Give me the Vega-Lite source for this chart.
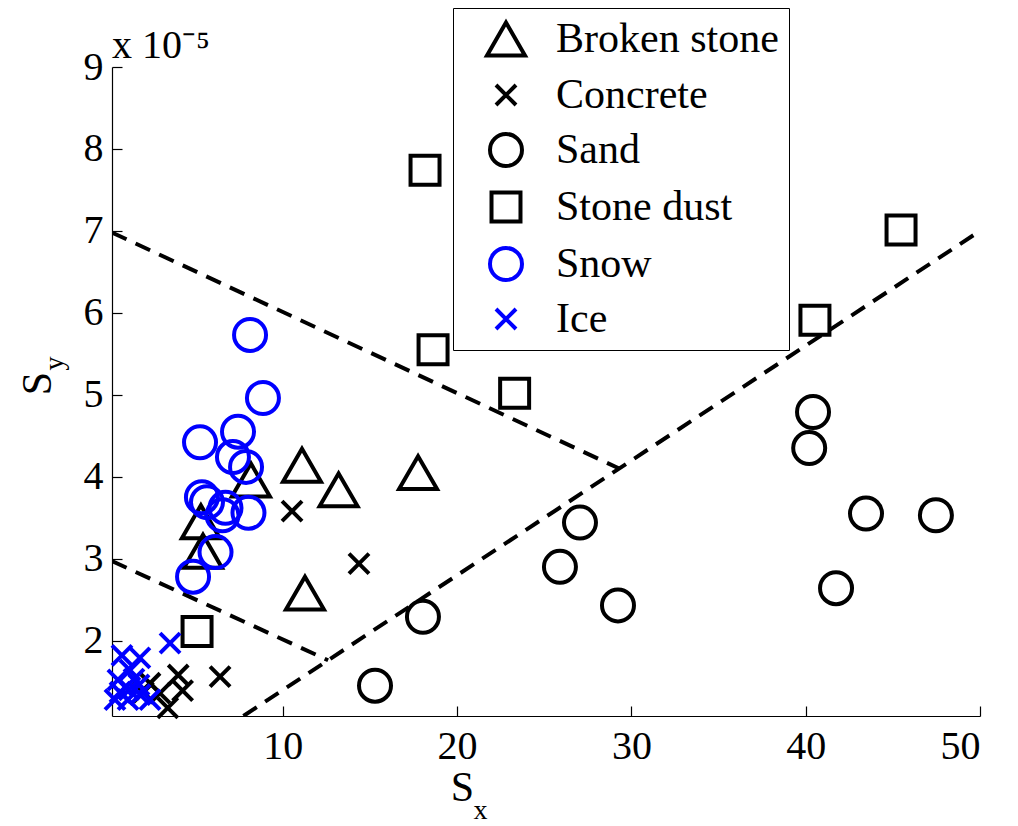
{
  "$schema": "https://vega.github.io/schema/vega-lite/v6.json",
  "width": 868,
  "height": 649,
  "autosize": {"type": "none"},
  "padding": {"left": 112, "top": 67, "right": 38, "bottom": 110},
  "background": "white",
  "config": {"view": {"stroke": null}, "font": "Liberation Serif"},
  "title": {"text": "x 10⁻⁵", "anchor": "start", "frame": "group", "fontSize": 40, "font": "Liberation Serif", "fontWeight": "normal", "color": "black", "baseline": "alphabetic", "offset": 12, "dy": 102},
  "datasets": {
    "lines": [
      {"seg": "a", "sx": 0.2, "sy": 6.98},
      {"seg": "a", "sx": 29.3, "sy": 4.1},
      {"seg": "b", "sx": 7.74, "sy": 1.08},
      {"seg": "b", "sx": 50, "sy": 7.0},
      {"seg": "c", "sx": 0.2, "sy": 2.97},
      {"seg": "c", "sx": 12.6, "sy": 1.76}
    ],
    "pts": [
      {"material": "Broken stone", "sx": 11.1, "sy": 4.14},
      {"material": "Broken stone", "sx": 13.2, "sy": 3.84},
      {"material": "Broken stone", "sx": 17.76, "sy": 4.05},
      {"material": "Broken stone", "sx": 11.27, "sy": 2.58},
      {"material": "Broken stone", "sx": 8.17, "sy": 3.96},
      {"material": "Broken stone", "sx": 5.3, "sy": 3.45},
      {"material": "Broken stone", "sx": 5.42, "sy": 3.09},
      {"material": "Concrete", "sx": 10.53, "sy": 3.58},
      {"material": "Concrete", "sx": 14.37, "sy": 2.94},
      {"material": "Concrete", "sx": 6.4, "sy": 1.56},
      {"material": "Concrete", "sx": 4.0, "sy": 1.58},
      {"material": "Concrete", "sx": 4.25, "sy": 1.39},
      {"material": "Concrete", "sx": 3.4, "sy": 1.18},
      {"material": "Concrete", "sx": 2.38, "sy": 1.48},
      {"material": "Concrete", "sx": 2.95, "sy": 1.36},
      {"material": "Concrete", "sx": 2.0, "sy": 1.37},
      {"material": "Sand", "sx": 27.05, "sy": 3.44},
      {"material": "Sand", "sx": 25.9, "sy": 2.9},
      {"material": "Sand", "sx": 29.23, "sy": 2.43},
      {"material": "Sand", "sx": 18.04, "sy": 2.29},
      {"material": "Sand", "sx": 15.29, "sy": 1.45},
      {"material": "Sand", "sx": 40.42, "sy": 4.79},
      {"material": "Sand", "sx": 40.2, "sy": 4.35},
      {"material": "Sand", "sx": 43.46, "sy": 3.55},
      {"material": "Sand", "sx": 47.47, "sy": 3.53},
      {"material": "Sand", "sx": 41.74, "sy": 2.64},
      {"material": "Stone dust", "sx": 45.47, "sy": 7.01},
      {"material": "Stone dust", "sx": 40.53, "sy": 5.91},
      {"material": "Stone dust", "sx": 18.16, "sy": 7.74},
      {"material": "Stone dust", "sx": 18.62, "sy": 5.55},
      {"material": "Stone dust", "sx": 23.3, "sy": 5.02},
      {"material": "Stone dust", "sx": 5.08, "sy": 2.11},
      {"material": "Snow", "sx": 8.12, "sy": 5.73},
      {"material": "Snow", "sx": 8.86, "sy": 4.96},
      {"material": "Snow", "sx": 7.43, "sy": 4.55},
      {"material": "Snow", "sx": 5.25, "sy": 4.42},
      {"material": "Snow", "sx": 7.14, "sy": 4.24},
      {"material": "Snow", "sx": 7.89, "sy": 4.12},
      {"material": "Snow", "sx": 5.36, "sy": 3.75},
      {"material": "Snow", "sx": 5.65, "sy": 3.69},
      {"material": "Snow", "sx": 6.71, "sy": 3.62},
      {"material": "Snow", "sx": 8.03, "sy": 3.56},
      {"material": "Snow", "sx": 6.54, "sy": 3.53},
      {"material": "Snow", "sx": 6.14, "sy": 3.08},
      {"material": "Snow", "sx": 4.85, "sy": 2.78},
      {"material": "Ice", "sx": 0.77, "sy": 1.82},
      {"material": "Ice", "sx": 1.8, "sy": 1.79},
      {"material": "Ice", "sx": 1.23, "sy": 1.64},
      {"material": "Ice", "sx": 0.54, "sy": 1.52},
      {"material": "Ice", "sx": 1.18, "sy": 1.4},
      {"material": "Ice", "sx": 1.75, "sy": 1.46},
      {"material": "Ice", "sx": 0.37, "sy": 1.28},
      {"material": "Ice", "sx": 1.12, "sy": 1.28},
      {"material": "Ice", "sx": 1.81, "sy": 1.34},
      {"material": "Ice", "sx": 2.38, "sy": 1.28},
      {"material": "Ice", "sx": 0.66, "sy": 1.37},
      {"material": "Ice", "sx": 1.46, "sy": 1.53},
      {"material": "Ice", "sx": 3.53, "sy": 1.97}
    ]
  },
  "resolve": {"axis": {"x": "independent", "y": "independent"}},
  "layer": [
    {
      "data": {"name": "lines"},
      "mark": {"type": "line", "color": "black", "strokeWidth": 4, "strokeDash": [16, 10], "clip": true},
      "encoding": {
        "x": {
          "field": "sx", "type": "quantitative",
          "scale": {"domain": [0.2, 50], "nice": false, "zero": false},
          "axis": {"orient": "bottom", "title": "S", "values": [10, 20, 30, 40, 50], "grid": false, "domainColor": "black", "domainWidth": 1.2, "tickColor": "black", "tickWidth": 1.2, "tickSize": -10, "labelFontSize": 40, "labelFont": "Liberation Serif", "labelColor": "black", "labelPadding": 20, "titleFontSize": 42, "titleFont": "Liberation Serif", "titleFontWeight": "normal", "titleColor": "black", "titleX": 350, "titleY": 84, "titleAlign": "center", "titleBaseline": "alphabetic"}
        },
        "y": {
          "field": "sy", "type": "quantitative",
          "scale": {"domain": [1.08, 9], "nice": false, "zero": false},
          "axis": {"orient": "left", "title": "S", "values": [2, 3, 4, 5, 6, 7, 8, 9], "grid": false, "domainColor": "black", "domainWidth": 1.2, "tickColor": "black", "tickWidth": 1.2, "tickSize": -10, "labelFontSize": 40, "labelFont": "Liberation Serif", "labelColor": "black", "labelPadding": 19, "titleFontSize": 42, "titleFont": "Liberation Serif", "titleFontWeight": "normal", "titleColor": "black", "titleX": -62, "titleY": 316, "titleAngle": 270, "titleAlign": "center", "titleBaseline": "alphabetic"}
        },
        "detail": {"field": "seg", "type": "nominal"}
      }
    },
    {
      "data": {"name": "pts"},
      "mark": {"type": "point", "filled": false, "strokeWidth": 4, "opacity": 1},
      "encoding": {
        "x": {
          "field": "sx", "type": "quantitative",
          "axis": {"orient": "bottom", "title": "x", "labels": false, "ticks": false, "domain": false, "grid": false, "titleFontSize": 28, "titleFont": "Liberation Serif", "titleFontWeight": "normal", "titleColor": "black", "titleX": 368, "titleY": 102, "titleAlign": "center", "titleBaseline": "alphabetic"}
        },
        "y": {
          "field": "sy", "type": "quantitative",
          "axis": {"orient": "left", "title": "y", "labels": false, "ticks": false, "domain": false, "grid": false, "titleFontSize": 28, "titleFont": "Liberation Serif", "titleFontWeight": "normal", "titleColor": "black", "titleX": -50, "titleY": 296, "titleAngle": 270, "titleAlign": "center", "titleBaseline": "alphabetic"}
        },
        "shape": {
          "field": "material", "type": "nominal",
          "scale": {"domain": ["Broken stone", "Concrete", "Sand", "Stone dust", "Snow", "Ice"], "range": ["triangle-up", "M-1,-1L1,1M-1,1L1,-1", "circle", "square", "circle", "M-1,-1L1,1M-1,1L1,-1"]},
          "legend": {"title": null, "orient": "none", "legendX": 341, "legendY": -59, "labelFontSize": 42, "labelFont": "Liberation Serif", "labelColor": "black", "labelLimit": 0, "symbolStrokeWidth": 4, "padding": 10, "rowPadding": 10, "labelOffset": 29, "symbolOffset": 22, "strokeColor": "black", "fillColor": "white"}
        },
        "color": {
          "field": "material", "type": "nominal",
          "scale": {"domain": ["Broken stone", "Concrete", "Sand", "Stone dust", "Snow", "Ice"], "range": ["#000000", "#000000", "#000000", "#000000", "#0000ff", "#0000ff"]},
          "legend": {"title": null, "orient": "none", "legendX": 341, "legendY": -59, "labelFontSize": 42, "labelFont": "Liberation Serif", "labelColor": "black", "labelLimit": 0, "symbolStrokeWidth": 4, "padding": 10, "rowPadding": 10, "labelOffset": 29, "symbolOffset": 22, "strokeColor": "black", "fillColor": "white"}
        },
        "size": {
          "field": "material", "type": "nominal",
          "scale": {"type": "ordinal", "domain": ["Broken stone", "Concrete", "Sand", "Stone dust", "Snow", "Ice"], "range": [1444, 400, 1024, 840, 1024, 400]},
          "legend": {"title": null, "orient": "none", "legendX": 341, "legendY": -59, "labelFontSize": 42, "labelFont": "Liberation Serif", "labelColor": "black", "labelLimit": 0, "symbolStrokeWidth": 4, "padding": 10, "rowPadding": 10, "labelOffset": 29, "symbolOffset": 22, "strokeColor": "black", "fillColor": "white"}
        }
      }
    }
  ]
}
